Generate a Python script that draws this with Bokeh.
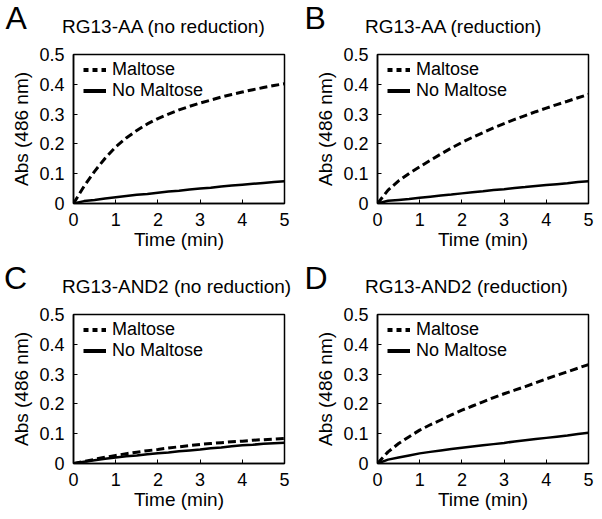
from bokeh.plotting import figure
from bokeh.layouts import column, row
from bokeh.models import Label, Legend, LegendItem, FixedTicker, Range1d
from bokeh.embed import file_html
from bokeh.resources import INLINE

# ---- data ----
time_min = [0, 0.25, 0.5, 0.75, 1, 1.25, 1.5, 1.75, 2, 2.25, 2.5, 2.75,
            3, 3.25, 3.5, 3.75, 4, 4.25, 4.5, 4.75, 5]

a_maltose = [0, 0.058, 0.108, 0.152, 0.190, 0.220, 0.245, 0.267, 0.285, 0.300, 0.314,
             0.326, 0.337, 0.347, 0.357, 0.366, 0.374, 0.382, 0.389, 0.396, 0.402]
a_no_maltose = [0, 0.008, 0.012, 0.017, 0.021, 0.025, 0.029, 0.032, 0.036, 0.040, 0.043,
                0.047, 0.050, 0.053, 0.057, 0.060, 0.063, 0.066, 0.069, 0.072, 0.075]

b_maltose = [0, 0.045, 0.076, 0.101, 0.123, 0.145, 0.166, 0.186, 0.205, 0.222, 0.238,
             0.254, 0.268, 0.282, 0.295, 0.308, 0.320, 0.332, 0.343, 0.355, 0.366]
b_no_maltose = [0, 0.009, 0.012, 0.015, 0.019, 0.023, 0.027, 0.030, 0.034, 0.038, 0.041,
                0.045, 0.048, 0.052, 0.055, 0.059, 0.062, 0.065, 0.068, 0.072, 0.075]

c_maltose = [0, 0.007, 0.014, 0.021, 0.027, 0.033, 0.038, 0.043, 0.047, 0.052, 0.056,
             0.060, 0.064, 0.067, 0.070, 0.073, 0.075, 0.078, 0.080, 0.082, 0.084]
c_no_maltose = [0, 0.006, 0.011, 0.016, 0.020, 0.024, 0.027, 0.031, 0.034, 0.037, 0.041,
                0.044, 0.047, 0.051, 0.054, 0.058, 0.061, 0.063, 0.066, 0.068, 0.070]

d_maltose = [0, 0.039, 0.067, 0.090, 0.112, 0.130, 0.146, 0.163, 0.179, 0.193, 0.207,
             0.221, 0.234, 0.246, 0.258, 0.271, 0.284, 0.296, 0.308, 0.320, 0.332]
d_no_maltose = [0, 0.013, 0.020, 0.027, 0.034, 0.039, 0.044, 0.049, 0.053, 0.057, 0.061,
                0.065, 0.069, 0.074, 0.078, 0.082, 0.086, 0.090, 0.094, 0.099, 0.103]

panel_letters = ["A", "B", "C", "D"]
panel_titles = ["RG13-AA (no reduction)", "RG13-AA (reduction)",
                "RG13-AND2 (no reduction)", "RG13-AND2 (reduction)"]
series_labels = ["Maltose", "No Maltose"]
x_ticks = [0, 1, 2, 3, 4, 5]
y_ticks = [0, 0.1, 0.2, 0.3, 0.4, 0.5]
y_tick_labels = ["0", "0.1", "0.2", "0.3", "0.4", "0.5"]
x_label = "Time (min)"
y_label = "Abs (486 nm)"

FONT = "Liberation Sans"
FRAME_H = 149
HEADER_H = 46
NAN = float("nan")


def make_header(letter, title, width, letter_x, title_x):
    h = figure(width=width, height=HEADER_H, x_range=Range1d(0, width),
               y_range=Range1d(HEADER_H, 0), x_axis_type=None, y_axis_type=None,
               output_backend="svg", toolbar_location=None, min_border=0)
    h.frame_align = False
    h.grid.visible = False
    h.outline_line_color = None
    h.background_fill_color = "white"
    h.border_fill_color = "white"
    h.add_layout(Label(x=letter_x, y=17, text=letter, text_font=FONT,
                       text_font_size="32px", text_color="black",
                       text_baseline="middle", text_align="left"))
    h.add_layout(Label(x=title_x, y=25.5, text=title, text_font=FONT,
                       text_font_size="19px", text_color="black",
                       text_baseline="middle", text_align="left"))
    return h


def make_panel(malt, nomalt, width, height, left, right, top):
    bottom = height - top - FRAME_H
    p = figure(width=width, height=height, x_range=Range1d(0, 5), y_range=Range1d(0, 0.5),
               output_backend="svg", toolbar_location=None,
               min_border_left=left, min_border_right=right,
               min_border_top=top, min_border_bottom=bottom)
    p.frame_align = False
    p.grid.visible = False
    p.background_fill_color = "white"
    p.border_fill_color = "white"
    p.outline_line_color = "black"
    p.outline_line_width = 1.5
    p.outline_line_alpha = 1.0

    for ax in (p.xaxis, p.yaxis):
        ax.axis_line_color = "black"
        ax.axis_line_width = 1.5
        ax.major_tick_in = 4
        ax.major_tick_out = 0
        ax.major_tick_line_color = "black"
        ax.major_tick_line_width = 1
        ax.minor_tick_line_color = None
        ax.major_label_text_font = FONT
        ax.major_label_text_font_size = "18px"
        ax.major_label_text_color = "black"
        ax.axis_label_text_font = FONT
        ax.axis_label_text_font_size = "19px"
        ax.axis_label_text_font_style = "normal"
        ax.axis_label_text_color = "black"

    p.xaxis.ticker = FixedTicker(ticks=x_ticks)
    p.yaxis.ticker = FixedTicker(ticks=y_ticks)
    p.yaxis.major_label_overrides = dict(zip(y_ticks, y_tick_labels))
    p.xaxis.axis_label = x_label
    p.yaxis.axis_label = y_label
    p.xaxis.major_label_standoff = 9
    p.xaxis.axis_label_standoff = 0
    p.yaxis.major_label_standoff = 9
    p.yaxis.axis_label_standoff = 4

    p.line(time_min, malt, line_color="black", line_width=3, line_dash="8 4")
    p.line(time_min, nomalt, line_color="black", line_width=2.5)

    # legend-only samples (the reference legend uses a denser dash and thicker strokes)
    r1 = p.line([NAN], [NAN], line_color="black", line_width=4, line_dash="5 4")
    r2 = p.line([NAN], [NAN], line_color="black", line_width=4)
    legend = Legend(items=[LegendItem(label=series_labels[0], renderers=[r1]),
                           LegendItem(label=series_labels[1], renderers=[r2])],
                    location=(10, 102), margin=0, padding=0, spacing=0,
                    glyph_width=23, glyph_height=19, label_height=19,
                    label_standoff=6, label_text_font=FONT, label_text_font_size="18px",
                    label_text_color="black",
                    background_fill_alpha=0, border_line_alpha=0)
    p.add_layout(legend)
    return p


hA = make_header(panel_letters[0], panel_titles[0], 301, 5, 61.5)
hB = make_header(panel_letters[1], panel_titles[1], 301, 3, 63.5)
hC = make_header(panel_letters[2], panel_titles[2], 301, 3.5, 61.5)
hD = make_header(panel_letters[3], panel_titles[3], 301, 3, 63.5)

pA = make_panel(a_maltose, a_no_maltose, 301, 214, 73, 17, 8)
pB = make_panel(b_maltose, b_no_maltose, 301, 214, 76, 14, 8)
pC = make_panel(c_maltose, c_no_maltose, 301, 213, 73, 17, 8)
pD = make_panel(d_maltose, d_no_maltose, 301, 213, 76, 14, 8)

layout = column(row(column(hA, pA), column(hB, pB)),
                row(column(hC, pC), column(hD, pD)))

open("out.html", "w").write(file_html(layout, INLINE))
